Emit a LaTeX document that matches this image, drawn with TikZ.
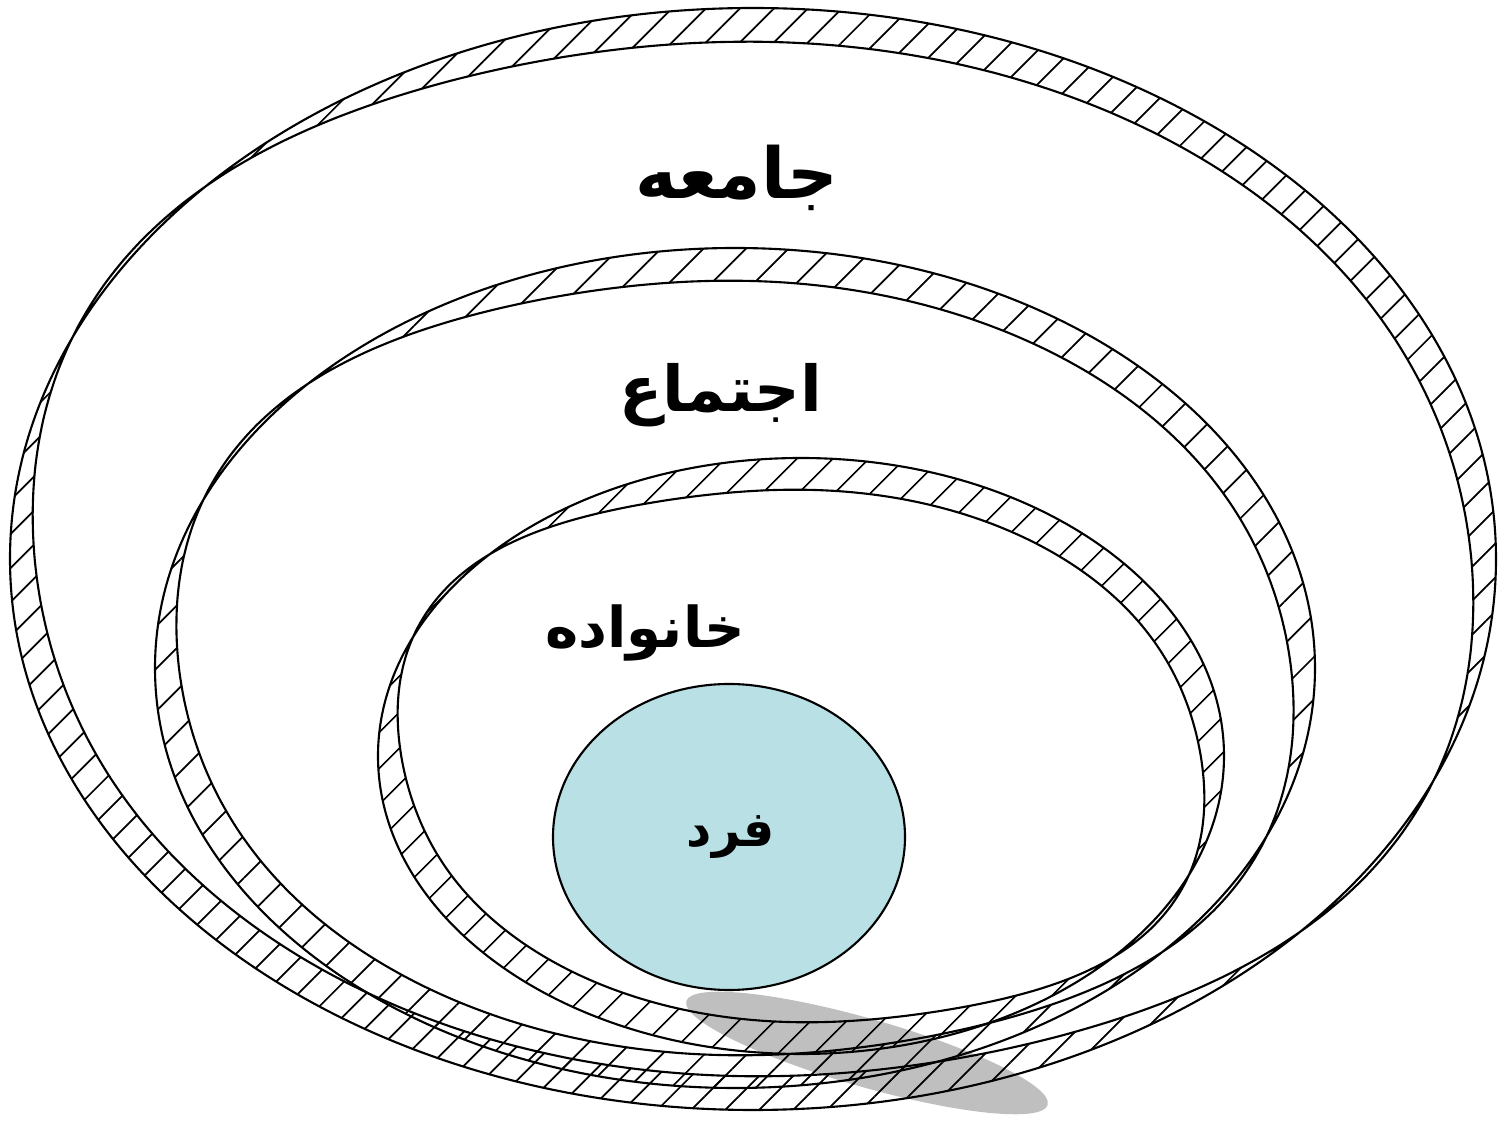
\documentclass[tikz,border=0pt]{standalone}
\usepackage{fontspec}
\usetikzlibrary{patterns.meta}
\newfontfamily\arabicfont[Script=Arabic]{DejaVu Sans}
\TeXXeTstate=1
\definecolor{fardblue}{RGB}{185,224,228}
\definecolor{shadowgray}{RGB}{191,191,191}

\tikzset{
  ringline/.style={line width=0.6pt, black},
  lbl/.style={font=\arabicfont\bfseries\fontsize{#1}{#1}\selectfont},
  declare function={csq(\t)=cos(\t-147)*cos(\t-147);
                    rw(\t)=1-1.12*csq(\t)*csq(\t)*csq(\t)*csq(\t);}
}

%% hatched ring: centre x, centre y, x radius, y radius, width, hatch distance
\newcommand\hatchring[6]{%
  \draw[ringline, even odd rule,
        pattern={Lines[angle=45,distance=#6,line width=0.5pt]}]
    (#1,#2) ellipse [x radius=#3, y radius=#4]
    plot[smooth cycle, domain=0:357.5, samples=144]
      ({#1+(#3-#5*rw(\x))*cos(\x)}, {#2+(#4-#5*rw(\x))*sin(\x)});
}

\begin{document}
\begin{tikzpicture}[x=0.01cm, y=0.01cm]
  \fill[white] (0,0) rectangle (1502,-1122);
  \useasboundingbox (0,0) rectangle (1502,-1122);

  %% ── shadow under the inner disc ─────────────────
  \fill[shadowgray, rotate around={-16:(867,-1053)}]
    (867,-1053) ellipse [x radius=188, y radius=34];

  %% ── the three hatched rings ─────────────────────
  \hatchring{753}{-559}{743}{551}{34}{0.24cm}
  \hatchring{735}{-668}{580}{420}{33}{0.30cm}
  \hatchring{801}{-756}{423}{298}{32}{0.26cm}

  %% ── inner disc ──────────────────────────────────
  \filldraw[fardblue, draw=black, line width=0.6pt]
    (729,-837) ellipse [x radius=176, y radius=153];

  %% Labels
  \node[lbl=20] (jameh)      at (737,-178) {\beginR جامعه\endR};
  \node[lbl=18] (ejtema)     at (721,-395) {\beginR اجتماع\endR};
  \node[lbl=16] (khanevadeh) at (645,-633) {\beginR خانواده\endR};
  \node[lbl=14] (fard)       at (731,-837) {\beginR فرد\endR};
\end{tikzpicture}
\end{document}
